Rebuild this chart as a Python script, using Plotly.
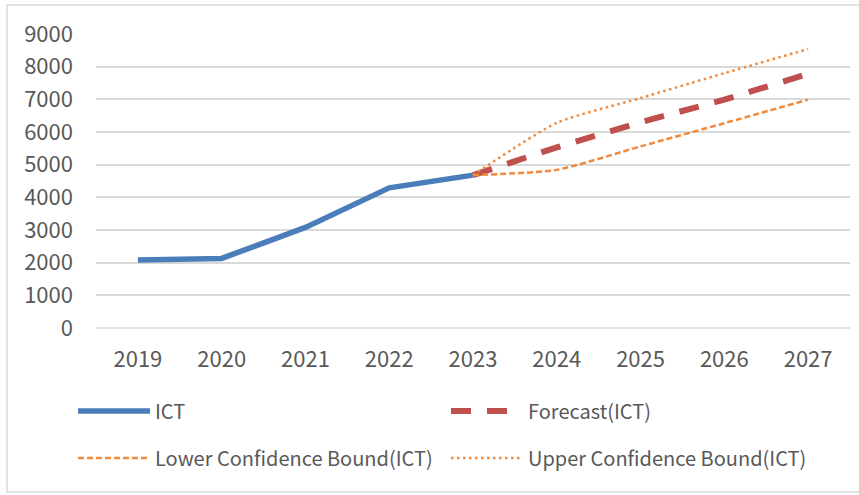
import plotly.graph_objects as go

years = ["2019", "2020", "2021", "2022", "2023", "2024", "2025", "2026", "2027"]
ict_years = ["2019", "2020", "2021", "2022", "2023"]
ict = [2080, 2130, 3080, 4290, 4680]
fc_years = ["2023", "2024", "2025", "2026", "2027"]
forecast = [4680, 5530, 6300, 6990, 7780]
lower = [4680, 4840, 5560, 6270, 6990]
upper = [4680, 6280, 7040, 7800, 8540]
y_ticks = [0, 1000, 2000, 3000, 4000, 5000, 6000, 7000, 8000, 9000]

W, H = 859, 495
ML, MR, MT, MB = 96, 9, 34, 167
PW, PH = W - ML - MR, H - MT - MB

def px(x):
    return (x - ML) / PW

def py(y):
    return (H - MB - y) / PH

FONT = "Noto Sans CJK SC"
TXT = "#595959"

fig = go.Figure()
fig.add_trace(go.Scatter(x=ict_years, y=ict, name="ICT", mode="lines",
                         line=dict(color="#4a7ebb", width=5.5), legend="legend"))
fig.add_trace(go.Scatter(x=fc_years, y=forecast, name="Forecast(ICT)", mode="lines",
                         line=dict(color="#c0504d", width=6, dash="20px,16px"), legend="legend"))
fig.add_trace(go.Scatter(x=fc_years, y=lower, name="Lower Confidence Bound(ICT)", mode="lines",
                         line=dict(color="#f08a3c", width=2.5, dash="6px,3px", shape="spline", smoothing=0.6),
                         legend="legend2"))
fig.add_trace(go.Scatter(x=fc_years, y=upper, name="Upper Confidence Bound(ICT)", mode="lines",
                         line=dict(color="#f08a3c", width=2.5, dash="2.5px,3.5px", shape="spline", smoothing=0.6),
                         legend="legend2"))

legend_common = dict(orientation="h", xanchor="left", yanchor="middle",
                     font=dict(family=FONT, size=20, color=TXT),
                     entrywidth=286, entrywidthmode="pixels", itemwidth=72,
                     bgcolor="rgba(0,0,0,0)", tracegroupgap=0)

fig.update_layout(
    width=W, height=H,
    margin=dict(l=ML, r=MR, t=MT, b=MB, autoexpand=False),
    paper_bgcolor="white", plot_bgcolor="white",
    font=dict(family=FONT, size=22, color=TXT),
    showlegend=True,
    legend=dict(x=px(73), y=py(411), **legend_common),
    legend2=dict(x=px(73), y=py(458), **legend_common),
    xaxis=dict(type="category", categoryorder="array", categoryarray=years,
               range=[-0.5, 8.5], showgrid=False, zeroline=False, showline=False,
               ticks="", ticklabelstandoff=16, tickfont=dict(family=FONT, size=22, color=TXT)),
    yaxis=dict(range=[0, 9000], tickvals=y_ticks, showgrid=True, gridcolor="#d9d9d9",
               gridwidth=1.5, zeroline=False, showline=False, ticks="",
               ticklabelstandoff=22, tickfont=dict(family=FONT, size=22, color=TXT)),
    shapes=[dict(type="line", xref="paper", yref="paper", x0=0, x1=1, y0=0, y1=0,
                 line=dict(color="#d9d9d9", width=1.5), layer="below"),
            dict(type="rect", xref="paper", yref="paper", x0=px(7), x1=px(W + 5),
                 y0=py(492), y1=py(5), line=dict(color="#d9d9d9", width=1.5))],
)

fig.write_html("out.html", post_script="document.body.style.margin='0';",
               config={"displayModeBar": False})
